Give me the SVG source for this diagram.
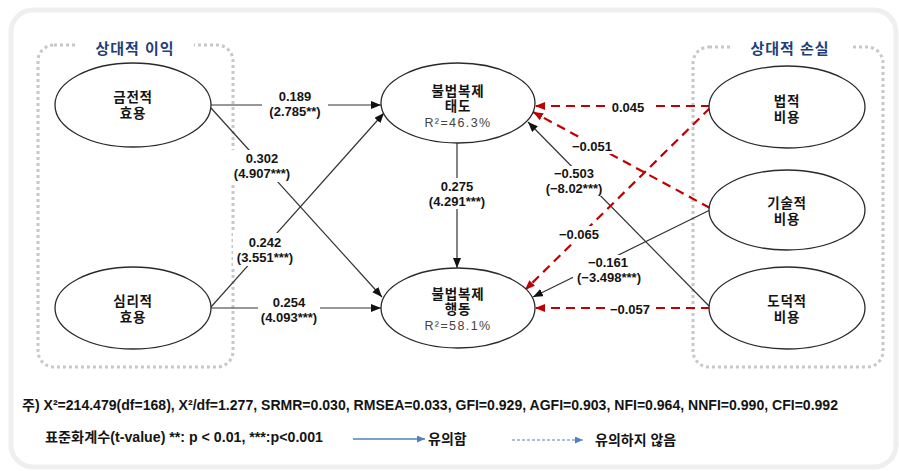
<svg xmlns="http://www.w3.org/2000/svg" width="899" height="471" viewBox="0 0 899 471">
<defs>
<style>
text{font-family:"Liberation Sans","Noto Sans CJK KR",sans-serif;fill:#141414}
.node ellipse{fill:#fff;stroke:#2a2a2a;stroke-width:1.3}
.nt{font-size:13.5px;font-weight:bold;text-anchor:middle;letter-spacing:0.8px}
.r2{font-size:12.5px;text-anchor:middle;letter-spacing:1.4px;fill:#444}
.lb{font-size:13px;text-anchor:middle;font-weight:bold}
.sol{stroke:#333;stroke-width:1.2;fill:none}
.dsh{stroke:#c00000;stroke-width:2.2;fill:none;stroke-dasharray:9 6}
.bg{fill:#fff}
.grp{fill:none;stroke:#c8c8c8;stroke-width:3;stroke-dasharray:3 3}
.gt{font-size:15px;font-weight:bold;fill:#1f3f7a;text-anchor:middle;letter-spacing:1px}
.ft{font-size:14px;font-weight:bold}
</style>
<marker id="ab" markerUnits="userSpaceOnUse" markerWidth="12" markerHeight="10" refX="10" refY="4" orient="auto"><path d="M0,0 L10,4 L0,8 Z" fill="#111"/></marker>
<marker id="ar" markerUnits="userSpaceOnUse" markerWidth="12" markerHeight="10" refX="10" refY="4" orient="auto"><path d="M0,0 L10,4 L0,8 Z" fill="#c00000"/></marker>
<marker id="abl" markerUnits="userSpaceOnUse" markerWidth="12" markerHeight="10" refX="8" refY="3.5" orient="auto"><path d="M0,0 L8,3.5 L0,7 Z" fill="#4f81bd"/></marker>
</defs>
<rect x="0" y="0" width="899" height="471" fill="#fff"/>
<rect x="11" y="10" width="885" height="457" rx="22" fill="none" stroke="#efefef" stroke-width="5"/>

<g id="group-benefit">
<rect class="grp" x="38" y="45" width="195" height="322" rx="16"/>
<rect class="bg" x="76" y="36" width="118" height="20"/>
<text class="gt" x="135" y="54">상대적 이익</text>
</g>
<g id="group-loss">
<rect class="grp" x="693" y="47" width="190" height="320" rx="16"/>
<rect class="bg" x="730" y="36" width="120" height="20"/>
<text class="gt" x="790" y="54">상대적 손실</text>
</g>

<g id="connectors">
<line class="sol" x1="211" y1="105" x2="381" y2="105" marker-end="url(#ab)"/>
<line class="sol" x1="211" y1="108" x2="382" y2="297" marker-end="url(#ab)"/>
<line class="sol" x1="211" y1="307" x2="384" y2="113" marker-end="url(#ab)"/>
<line class="sol" x1="211" y1="308" x2="381" y2="308" marker-end="url(#ab)"/>
<line class="sol" x1="457" y1="143" x2="457" y2="268" marker-end="url(#ab)"/>
<line class="sol" x1="710" y1="307" x2="528" y2="122" marker-end="url(#ab)"/>
<line class="sol" x1="710" y1="210" x2="533" y2="297" marker-end="url(#ab)"/>
<line class="dsh" x1="710" y1="106" x2="535" y2="106" marker-end="url(#ar)"/>
<line class="dsh" x1="710" y1="208" x2="533" y2="112" marker-end="url(#ar)"/>
<line class="dsh" x1="710" y1="108" x2="525" y2="290" marker-end="url(#ar)"/>
<line class="dsh" x1="710" y1="308" x2="535" y2="308" marker-end="url(#ar)"/>

<rect class="bg" x="262" y="90" width="66" height="29"/>
<text class="lb" x="295" y="101">0.189</text>
<text class="lb" x="295" y="116">(2.785**)</text>

<rect class="bg" x="230" y="150" width="64" height="32"/>
<text class="lb" x="262" y="163">0.302</text>
<text class="lb" x="262" y="178">(4.907***)</text>

<rect class="bg" x="233" y="233" width="64" height="33"/>
<text class="lb" x="265" y="247">0.242</text>
<text class="lb" x="265" y="262">(3.551***)</text>

<rect class="bg" x="258" y="295" width="62" height="30"/>
<text class="lb" x="289" y="307">0.254</text>
<text class="lb" x="289" y="322">(4.093***)</text>

<rect class="bg" x="427" y="178" width="62" height="31"/>
<text class="lb" x="457" y="191">0.275</text>
<text class="lb" x="457" y="206">(4.291***)</text>

<rect class="bg" x="606" y="99" width="44" height="16"/>
<text class="lb" x="628" y="112">0.045</text>

<rect class="bg" x="568" y="138" width="47" height="16"/>
<text class="lb" x="592" y="151">−0.051</text>

<rect class="bg" x="543" y="166" width="62" height="30"/>
<text class="lb" x="574" y="178">−0.503</text>
<text class="lb" x="574" y="193">(−8.02***)</text>

<rect class="bg" x="555" y="226" width="48" height="16"/>
<text class="lb" x="579" y="239">−0.065</text>

<rect class="bg" x="573" y="255" width="72" height="30"/>
<text class="lb" x="608" y="267">−0.161</text>
<text class="lb" x="609" y="282">(−3.498***)</text>

<rect class="bg" x="605" y="300" width="50" height="17"/>
<text class="lb" x="630" y="314">−0.057</text>
</g>

<g id="n-money" class="node">
<ellipse cx="133" cy="105" rx="78" ry="42"/>
<text class="nt" x="133" y="102">금전적</text>
<text class="nt" x="133" y="118">효용</text>
</g>
<g id="n-psych" class="node">
<ellipse cx="133" cy="308" rx="78" ry="41"/>
<text class="nt" x="133" y="306">심리적</text>
<text class="nt" x="133" y="322">효용</text>
</g>
<g id="n-attitude" class="node">
<ellipse cx="458" cy="103" rx="77" ry="40"/>
<text class="nt" x="458" y="96">불법복제</text>
<text class="nt" x="458" y="111">태도</text>
<text class="r2" x="458" y="127">R²=46.3%</text>
</g>
<g id="n-behavior" class="node">
<ellipse cx="458" cy="308" rx="77" ry="40"/>
<text class="nt" x="458" y="299">불법복제</text>
<text class="nt" x="458" y="314">행동</text>
<text class="r2" x="458" y="330">R²=58.1%</text>
</g>
<g id="n-legal" class="node">
<ellipse cx="787" cy="107" rx="78" ry="41"/>
<text class="nt" x="787" y="106">법적</text>
<text class="nt" x="787" y="122">비용</text>
</g>
<g id="n-tech" class="node">
<ellipse cx="787" cy="210" rx="78" ry="40"/>
<text class="nt" x="787" y="208">기술적</text>
<text class="nt" x="787" y="224">비용</text>
</g>
<g id="n-moral" class="node">
<ellipse cx="787" cy="308" rx="78" ry="41"/>
<text class="nt" x="787" y="306">도덕적</text>
<text class="nt" x="787" y="322">비용</text>
</g>

<g id="footnote">
<text class="ft" x="22" y="410" textLength="816" lengthAdjust="spacingAndGlyphs">주) X²=214.479(df=168),  X²/df=1.277, SRMR=0.030, RMSEA=0.033,  GFI=0.929, AGFI=0.903,  NFI=0.964,  NNFI=0.990, CFI=0.992</text>
<text class="ft" x="45" y="442" textLength="278" lengthAdjust="spacingAndGlyphs">표준화계수(t-value) **: p &lt; 0.01, ***:p&lt;0.001</text>
<line x1="353" y1="439" x2="425" y2="439" stroke="#4f81bd" stroke-width="1.3" marker-end="url(#abl)"/>
<text class="ft" x="428" y="444">유의함</text>
<line x1="512" y1="440" x2="583" y2="440" stroke="#4f81bd" stroke-width="1.2" stroke-dasharray="3 2" marker-end="url(#abl)"/>
<text class="ft" x="595" y="445">유의하지 않음</text>
</g>
</svg>
